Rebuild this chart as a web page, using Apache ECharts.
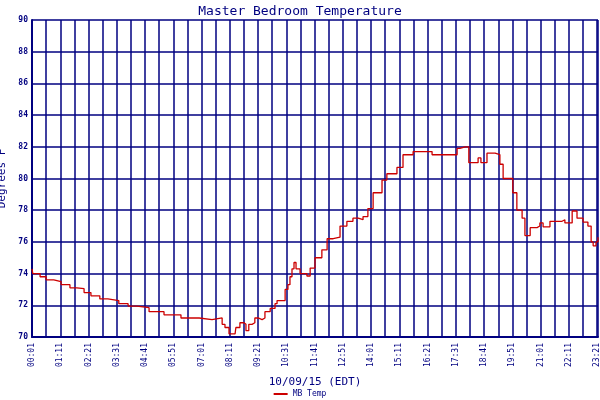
<!DOCTYPE html>
<html><head><meta charset="utf-8">
<script src="https://cdn.jsdelivr.net/npm/echarts@6/dist/echarts.min.js"></script>
<style>html,body{margin:0;padding:0;background:#fff}#c{width:600px;height:400px}</style>
</head><body><div id="c"></div>
<script>
// minutes since 00:01
const minutes = [0,2,20,35,54,72,94,111,129,146,168,188,215,238,260,290,327,369,414,446,471,478,488,503,505,515,525,530,537,545,552,560,570,577,590,602,607,619,627,634,639,644,649,654,664,681,689,701,718,731,746,763,780,795,808,820,832,845,867,879,904,919,944,986,991,1043,1053,1060,1073,1082,1100,1105,1112,1127,1147,1159,1167,1184,1191,1201,1214,1221,1234,1251,1258,1266,1283,1313,1320,1338,1350,1365,1377,1385,1390,1397,1402];
const temps = [74.3,74.0,73.8,73.6,73.5,73.3,73.1,73.05,72.8,72.6,72.4,72.3,72.1,71.95,71.85,71.6,71.4,71.2,71.1,71.2,70.8,70.6,70.2,70.3,70.6,70.9,70.8,70.4,70.8,70.9,71.2,71.1,71.2,71.6,71.8,72.1,72.3,72.3,73.0,73.3,73.8,74.3,74.7,74.3,74.0,73.85,74.35,75.0,75.5,76.2,76.3,77.0,77.3,77.5,77.4,77.6,78.1,79.1,79.9,80.3,80.7,81.5,81.7,81.7,81.5,81.5,81.9,82.0,82.0,81.0,81.0,81.3,81.0,81.6,81.5,80.9,80.0,80.0,79.1,78.0,77.5,76.4,76.9,77.0,77.2,76.95,77.3,77.4,77.2,77.95,77.5,77.25,77.0,76.0,75.75,76.0,76.3];
const yTicks = [70,72,74,76,78,80,82,84,86,88,90];
const seriesName = 'MB Temp';
const navy = '#000080';
const font = 'DejaVu Sans Mono';
function fmt(v){const t=(v+1)%1440;const h=Math.floor(t/60),m=t%60;return String(h).padStart(2,'0')+':'+String(m).padStart(2,'0');}
const chart = echarts.init(document.getElementById('c'));
chart.setOption({
  animation:false,
  title:{text:'Master Bedroom Temperature',left:'center',top:0,textStyle:{fontFamily:font,fontSize:13,fontWeight:'normal',color:navy}},
  legend:{bottom:-3,left:'center',itemWidth:14,itemHeight:2,icon:'rect',textStyle:{fontFamily:font,fontSize:8,color:navy},data:[seriesName]},
  grid:{left:32,right:2,top:20,bottom:63,outerBoundsMode:'none',containLabel:false},
  xAxis:{type:'value',min:0,max:1402,interval:35,
    name:'10/09/15 (EDT)',nameLocation:'middle',nameGap:40,nameTextStyle:{fontFamily:font,fontSize:11,color:navy},
    axisLine:{lineStyle:{color:navy,width:2}},axisTick:{show:false},
    axisLabel:{rotate:90,fontFamily:font,fontSize:8,color:navy,showMaxLabel:false,margin:6,
      formatter:v=>(v%70===0)?fmt(v):''},
    splitLine:{lineStyle:{color:navy,width:1.5}}},
  yAxis:{type:'value',min:yTicks[0],max:yTicks[yTicks.length-1],interval:2,
    name:'Degrees F',nameLocation:'middle',nameGap:22,nameTextStyle:{fontFamily:font,fontSize:11,color:navy},
    axisLine:{show:true,lineStyle:{color:navy,width:2}},axisTick:{show:false},
    axisLabel:{fontFamily:font,fontSize:8,fontWeight:'bold',color:navy,margin:4},
    splitLine:{lineStyle:{color:navy,width:1.5}}},
  series:[{name:seriesName,type:'line',step:'end',symbol:'none',
    data:minutes.map((m,i)=>[m,temps[i]]),
    lineStyle:{color:'#cc0000',width:1.3},itemStyle:{color:'#cc0000'}}]
});
</script></body></html>
